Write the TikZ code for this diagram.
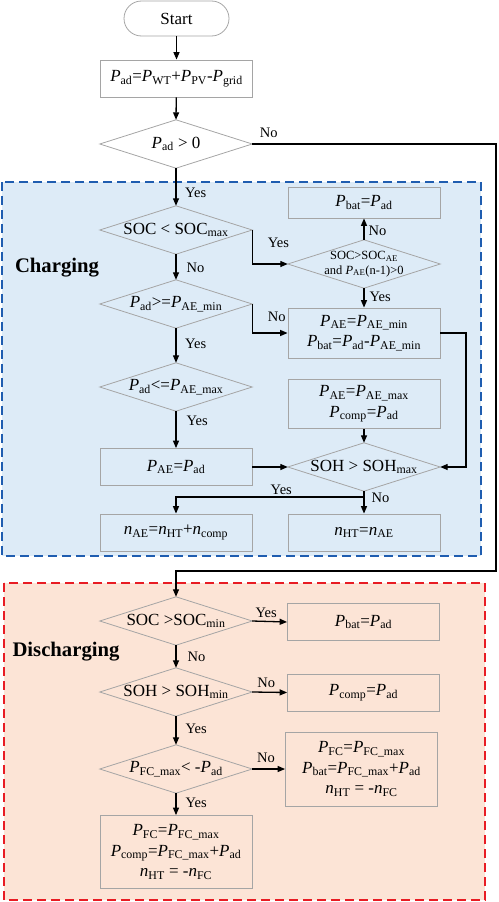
\documentclass[tikz,border=0pt]{standalone}
\usepackage{fontspec}
\setmainfont{Liberation Serif}
\usetikzlibrary{arrows.meta}
\newcommand\pv[2]{\textit{#1}\textsubscript{#2}}
\definecolor{blueFill}{RGB}{221,235,247}
\definecolor{peachFill}{RGB}{252,228,214}
\definecolor{blueDash}{RGB}{31,93,176}
\definecolor{redDash}{RGB}{232,28,36}
\definecolor{boxGray}{RGB}{165,165,165}
\begin{document}
\begin{tikzpicture}[x=1pt,y=-1pt,
  font=\fontsize{17}{20.5}\selectfont,
  box/.style={draw=boxGray, line width=0.8pt, minimum width=152pt, minimum height=37pt, inner sep=2pt, align=center},
  dia/.style={minimum width=152pt, minimum height=48pt, inner sep=0pt, align=center},
  diaedge/.style={draw=boxGray, line width=0.8pt},
  lbl/.style={font=\fontsize{14.5}{16}\selectfont, inner sep=0pt},
  ttl/.style={font=\fontsize{20.7}{24}\selectfont\bfseries, inner sep=0pt},
  arr/.style={-{Triangle[length=7.5pt,width=6pt]}, line width=1.3pt},
  region/.style={line width=1.8pt, dash pattern=on 9pt off 5pt}
]
\useasboundingbox (0,0) rectangle (498,902);
% regions
\path[region, fill=blueFill, draw=blueDash] (2,182) rectangle (481,556);
\path[region, fill=peachFill, draw=redDash] (4,583) rectangle (485,900);

% top
\node[draw=boxGray, line width=0.8pt, rounded corners=17.5pt, minimum width=105pt, minimum height=35pt, inner sep=0pt] (start) at (176.5,18.5) {Start};
\node[box, fill=white] (pad) at (176.5,78.5) {\pv{P}{ad}=\pv{P}{WT}+\pv{P}{PV}-\pv{P}{grid}};
\node[dia] (d0) at (176,144) {\pv{P}{ad} > 0};

% charging
\node[ttl] (tc) at (57,268) {Charging};
\node[dia] (d1) at (176,230) {SOC < SOC\textsubscript{max}};
\node[box, minimum height=31pt] (b1) at (364,202.5) {\pv{P}{bat}=\pv{P}{ad}};
\node[dia, font=\fontsize{12.5}{14.5}\selectfont] (d2) at (364,264) {SOC>SOC\textsubscript{AE}\\and \pv{P}{AE}(n-1)>0};
\node[dia] (d3) at (176,304) {\pv{P}{ad}>=\pv{P}{AE\_min}};
\node[box, minimum height=50pt] (b2) at (364,333) {\pv{P}{AE}=\pv{P}{AE\_min}\\\pv{P}{bat}=\pv{P}{ad}-\pv{P}{AE\_min}};
\node[dia] (d4) at (176,387) {\pv{P}{ad}<=\pv{P}{AE\_max}};
\node[box, minimum height=49pt] (b3) at (364,404) {\pv{P}{AE}=\pv{P}{AE\_max}\\\pv{P}{comp}=\pv{P}{ad}};
\node[box] (b4) at (176,467) {\pv{P}{AE}=\pv{P}{ad}};
\node[dia] (d5) at (364,467) {SOH > SOH\textsubscript{max}};
\node[box] (b5) at (176,532.5) {\pv{n}{AE}=\pv{n}{HT}+\pv{n}{comp}};
\node[box] (b6) at (364,532.5) {\pv{n}{HT}=\pv{n}{AE}};

% discharging
\node[ttl] (td) at (66,652) {Discharging};
\node[dia] (d6) at (176,621) {SOC >SOC\textsubscript{min}};
\node[box] (b7) at (363.5,622) {\pv{P}{bat}=\pv{P}{ad}};
\node[dia] (d7) at (176,692) {SOH > SOH\textsubscript{min}};
\node[box] (b8) at (363.5,692.5) {\pv{P}{comp}=\pv{P}{ad}};
\node[dia] (d8) at (176,769) {\pv{P}{FC\_max}< -\pv{P}{ad}};
\node[box, minimum height=74pt] (b9) at (361.5,769) {\pv{P}{FC}=\pv{P}{FC\_max}\\\pv{P}{bat}=\pv{P}{FC\_max}+\pv{P}{ad}\\\pv{n}{HT} = -\pv{n}{FC}};
\node[box, minimum height=73pt] (b10) at (176,852) {\pv{P}{FC}=\pv{P}{FC\_max}\\\pv{P}{comp}=\pv{P}{FC\_max}+\pv{P}{ad}\\\pv{n}{HT} = -\pv{n}{FC}};

% diamond outlines
\foreach \d in {d0,d1,d2,d3,d4,d5,d6,d7,d8}
  \draw[diaedge] (\d.north) -- (\d.east) -- (\d.south) -- (\d.west) -- cycle;

% helper coordinates
\coordinate (nr) at (496,571);
\coordinate (hx) at (466,333);
\coordinate (br) at (364,497);

% connectors
\draw[arr] (start) -- (pad);
\draw[arr] (pad) -- (d0.north);
\draw[arr] (d0.south) -- node[lbl, pos=0.66, right=8.5pt] {Yes} (d1.north);
\draw[arr] (d1.east) |- node[lbl, pos=0.5, anchor=south west, xshift=15pt, yshift=16pt] {Yes} (d2.west);
\draw[arr] (d2.north) -- node[lbl, pos=0.41, right=4pt] {No} (b1.south);
\draw[arr] (d1.south) -- node[lbl, pos=0.52, right=10pt] {No} (d3.north);
\draw[arr] (d3.east) |- node[lbl, pos=0.5, anchor=south west, xshift=15pt, yshift=11pt] {No} (b2.west);
\draw[arr] (d2.south) -- node[lbl, pos=0.43, right=5pt] {Yes} (b2.north);
\draw[arr] (b2.east) -- (hx) |- (d5.east);
\draw[arr] (d3.south) -- node[lbl, pos=0.44, right=8.5pt] {Yes} (d4.north);
\draw[arr] (d4.south) -- node[lbl, pos=0.27, right=10pt] {Yes} (b4.north);
\draw[arr] (b3.south) -- (d5.north);
\draw[arr] (b4.east) -- (d5.west);
\draw[arr] (d5.south) -- node[lbl, pos=0.3, right=7pt] {No} (b6.north);
\draw[arr] (br) -| node[lbl, pos=0.22, above=2pt] {Yes} (b5.north);

\draw[arr] (d0.east) -| node[lbl, pos=0, anchor=south west, xshift=7pt, yshift=6pt] {No} (nr) -| (d6.north);
\draw[arr] (d6.east) -- node[lbl, pos=0.4, above=3pt] {Yes} (b7.west);
\draw[arr] (d6.south) -- node[lbl, pos=0.52, right=11pt] {No} (d7.north);
\draw[arr] (d7.east) -- node[lbl, pos=0.4, above=4pt] {No} (b8.west);
\draw[arr] (d7.south) -- node[lbl, pos=0.45, right=9pt] {Yes} (d8.north);
\draw[arr] (d8.east) -- node[lbl, pos=0.42, above=6pt] {No} (b9.west);
\draw[arr] (d8.south) -- node[lbl, pos=0.43, right=9pt] {Yes} (b10.north);
\end{tikzpicture}
\end{document}
